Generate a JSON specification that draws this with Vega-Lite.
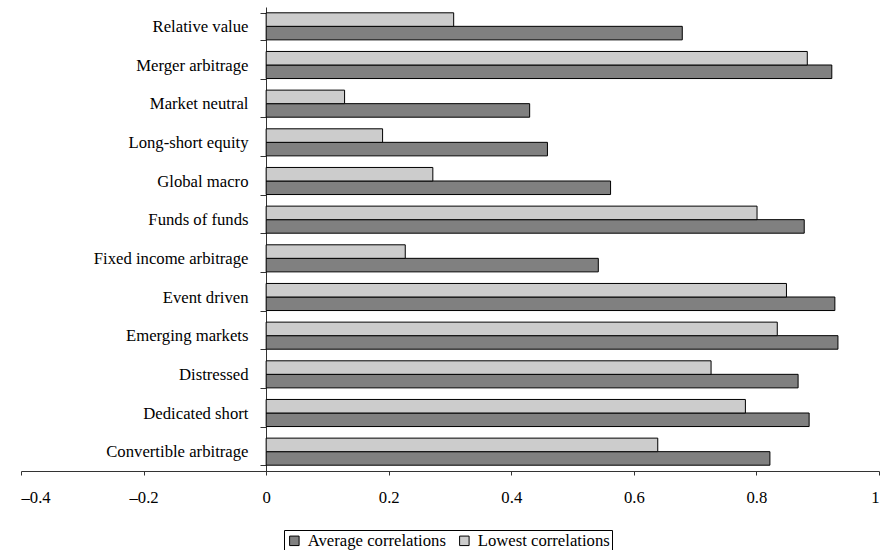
{
  "$schema": "https://vega.github.io/schema/vega-lite/v6.json",
  "autosize": "none",
  "width": 858,
  "height": 464,
  "padding": {"left": 21, "top": 7, "right": 1, "bottom": 79},
  "background": "white",
  "config": {
    "view": {"stroke": null},
    "font": "Liberation Serif",
    "axis": {"labelColor": "black", "domainColor": "#333", "tickColor": "#333", "grid": false, "title": null},
    "legend": {"labelColor": "black"}
  },
  "data": {
    "values": [
      {"category": "Relative value", "series": "Average correlations", "value": 0.679},
      {"category": "Relative value", "series": "Lowest correlations", "value": 0.306},
      {"category": "Merger arbitrage", "series": "Average correlations", "value": 0.923},
      {"category": "Merger arbitrage", "series": "Lowest correlations", "value": 0.883},
      {"category": "Market neutral", "series": "Average correlations", "value": 0.430},
      {"category": "Market neutral", "series": "Lowest correlations", "value": 0.128},
      {"category": "Long-short equity", "series": "Average correlations", "value": 0.459},
      {"category": "Long-short equity", "series": "Lowest correlations", "value": 0.190},
      {"category": "Global macro", "series": "Average correlations", "value": 0.562},
      {"category": "Global macro", "series": "Lowest correlations", "value": 0.272},
      {"category": "Funds of funds", "series": "Average correlations", "value": 0.878},
      {"category": "Funds of funds", "series": "Lowest correlations", "value": 0.801},
      {"category": "Fixed income arbitrage", "series": "Average correlations", "value": 0.542},
      {"category": "Fixed income arbitrage", "series": "Lowest correlations", "value": 0.227},
      {"category": "Event driven", "series": "Average correlations", "value": 0.928},
      {"category": "Event driven", "series": "Lowest correlations", "value": 0.849},
      {"category": "Emerging markets", "series": "Average correlations", "value": 0.933},
      {"category": "Emerging markets", "series": "Lowest correlations", "value": 0.834},
      {"category": "Distressed", "series": "Average correlations", "value": 0.868},
      {"category": "Distressed", "series": "Lowest correlations", "value": 0.726},
      {"category": "Dedicated short", "series": "Average correlations", "value": 0.886},
      {"category": "Dedicated short", "series": "Lowest correlations", "value": 0.782},
      {"category": "Convertible arbitrage", "series": "Average correlations", "value": 0.822},
      {"category": "Convertible arbitrage", "series": "Lowest correlations", "value": 0.639}
    ]
  },
  "mark": {"type": "bar", "stroke": "black", "strokeWidth": 1},
  "encoding": {
    "y": {
      "field": "category",
      "type": "nominal",
      "sort": null,
      "scale": {"paddingInner": 0.3, "paddingOuter": 0.15},
      "axis": {"offset": -245, "tickBand": "extent", "tickSize": 6, "labelPadding": 12, "domainWidth": 1, "labelFont": "Liberation Serif", "labelFontSize": 16.7}
    },
    "yOffset": {
      "field": "series",
      "type": "nominal",
      "sort": ["Lowest correlations", "Average correlations"]
    },
    "x": {
      "field": "value",
      "type": "quantitative",
      "scale": {"domain": [-0.4, 1], "nice": false, "zero": false},
      "axis": {
        "values": [-0.4, -0.2, 0, 0.2, 0.4, 0.6, 0.8, 1],
        "tickSize": 4,
        "labelPadding": 14,
        "labelFont": "Liberation Serif",
        "labelFontSize": 16.7,
        "labelExpr": "datum.value < 0 ? '–' + format(-datum.value, '') : format(datum.value, '')"
      }
    },
    "color": {
      "field": "series",
      "type": "nominal",
      "scale": {"domain": ["Average correlations", "Lowest correlations"], "range": ["#808080", "#cccccc"]},
      "legend": {
        "title": null,
        "orient": "none",
        "direction": "horizontal",
        "legendX": 263,
        "legendY": 523,
        "strokeColor": "black",
        "padding": 2,
        "symbolType": "square",
        "symbolSize": 90,
        "symbolStrokeColor": "black",
        "symbolStrokeWidth": 1,
        "columnPadding": 10,
        "labelOffset": 5,
        "labelFont": "Liberation Serif",
        "labelFontSize": 16.7
      }
    }
  }
}
